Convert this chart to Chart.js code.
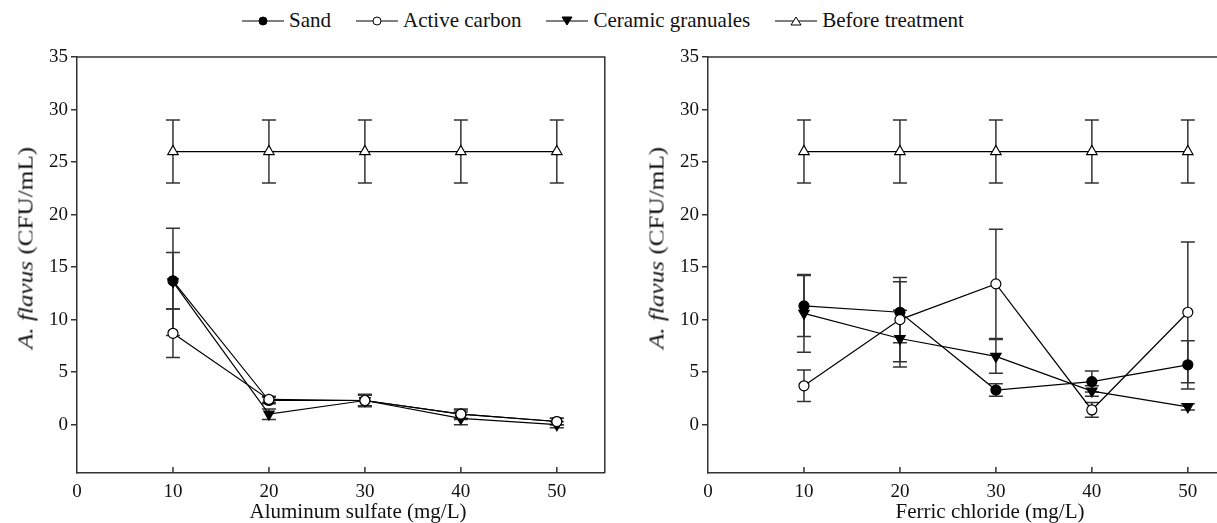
<!DOCTYPE html>
<html>
<head>
<meta charset="utf-8">
<script src="https://cdn.jsdelivr.net/npm/chart.js@4.4.1/dist/chart.umd.min.js"></script>
<style>
  html, body { margin: 0; padding: 0; background: #fff; }
  body { width: 1217px; height: 523px; overflow: hidden; position: relative; font-family: "Liberation Serif", "Times New Roman", "DejaVu Serif", serif; color: #111; }
  .panel { position: absolute; top: 0; width: 612px; height: 523px; }
  #legend { position: absolute; top: 8px; left: 0; width: 1206px; display: flex; justify-content: center; gap: 25px; font-size: 21px; }
  #legend .item { display: flex; align-items: center; gap: 5px; }
  .ytitle { position: absolute; top: 248px; font-size: 21px; white-space: nowrap; transform: translate(-50%, -50%) rotate(-90deg) scaleX(1.2); }
  .xtitle { position: absolute; top: 499px; font-size: 21px; line-height: 24px; white-space: nowrap; transform: translateX(-50%); }
</style>
</head>
<body>
<div id="legend"></div>
<div class="panel" style="left:0"><canvas id="chart-al"></canvas></div>
<div class="panel" style="left:631px"><canvas id="chart-fe"></canvas></div>
<div class="ytitle" style="left:26px"><i>A. flavus</i> (CFU/mL)</div>
<div class="ytitle" style="left:657px"><i>A. flavus</i> (CFU/mL)</div>
<div class="xtitle" style="left:358px">Aluminum sulfate (mg/L)</div>
<div class="xtitle" style="left:990px">Ferric chloride (mg/L)</div>
<script>
// Coagulant dose (mg/L)
const doses = [10, 20, 30, 40, 50];
const seriesNames = ['Sand', 'Active carbon', 'Ceramic granuales', 'Before treatment'];
const xTicks = [0, 10, 20, 30, 40, 50];
const yTicks = [0, 5, 10, 15, 20, 25, 30, 35];

// Aluminum sulfate panel
const alSand = [13.7, 2.3, 2.3, 1.0, 0.3];
const alSandErr = [2.7, 0.3, 0.5, 0.5, 0.3];
const alCarbon = [8.7, 2.4, 2.3, 1.0, 0.3];
const alCarbonErr = [2.3, 0.3, 0.5, 0.4, 0.3];
const alCeramic = [13.6, 1.0, 2.3, 0.6, 0.0];
const alCeramicErr = [5.1, 0.5, 0.6, 0.6, 0.3];

// Ferric chloride panel
const feSand = [11.3, 10.7, 3.3, 4.1, 5.7];
const feSandErr = [2.9, 2.9, 0.6, 1.0, 2.3];
const feCarbon = [3.7, 10.0, 13.4, 1.4, 10.7];
const feCarbonErr = [1.5, 4.0, 5.2, 0.7, 6.7];
const feCeramic = [10.6, 8.2, 6.5, 3.2, 1.7];
const feCeramicErr = [3.7, 2.7, 1.6, 0.5, 0.3];

// Before treatment (same in both panels)
const before = [26, 26, 26, 26, 26];
const beforeErr = [3, 3, 3, 3, 3];

const AXIS = '#333';
const FONT = '"Liberation Serif", "Times New Roman", "DejaVu Serif", serif';

// marker look per series
const markers = [
  { style: 'circle', fill: '#000', radius: 5, rotation: 0, order: 2 },
  { style: 'circle', fill: '#fff', radius: 5, rotation: 0, order: 0 },
  { style: 'triangle', fill: '#000', radius: 6, rotation: 180, order: 1 },
  { style: 'triangle', fill: '#fff', radius: 6, rotation: 0, order: 3 }
];

// vertical error bars with caps, drawn under the markers
const errorBars = {
  id: 'errorBars',
  beforeDatasetsDraw(chart) {
    const { ctx, scales: { x, y } } = chart;
    ctx.save();
    ctx.strokeStyle = AXIS;
    ctx.lineWidth = 1.5;
    chart.data.datasets.forEach(ds => {
      ds.data.forEach((p, i) => {
        const e = ds.errors[i];
        const px = x.getPixelForValue(p.x);
        const top = y.getPixelForValue(p.y + e);
        const bot = y.getPixelForValue(p.y - e);
        ctx.beginPath();
        ctx.moveTo(px, top); ctx.lineTo(px, bot);
        ctx.moveTo(px - 7, top); ctx.lineTo(px + 7, top);
        ctx.moveTo(px - 7, bot); ctx.lineTo(px + 7, bot);
        ctx.stroke();
      });
    });
    ctx.restore();
  }
};

// top/right frame and inward x ticks
const frame = {
  id: 'frame',
  afterDraw(chart) {
    const { ctx, chartArea: a, scales: { x } } = chart;
    ctx.save();
    ctx.strokeStyle = AXIS;
    ctx.lineWidth = 1.5;
    ctx.beginPath();
    ctx.moveTo(a.left, a.top); ctx.lineTo(a.right, a.top); ctx.lineTo(a.right, a.bottom);
    xTicks.filter(v => v > 0).forEach(v => {
      const px = x.getPixelForValue(v);
      ctx.moveTo(px, a.bottom); ctx.lineTo(px, a.bottom - 6);
    });
    ctx.stroke();
    ctx.restore();
  }
};

function makeDataset(i, values, errors) {
  const m = markers[i];
  return {
    label: seriesNames[i],
    data: doses.map((d, k) => ({ x: d, y: values[k] })),
    errors: errors,
    borderColor: '#000',
    borderWidth: 1.2,
    pointStyle: m.style,
    pointRadius: m.radius,
    pointRotation: m.rotation,
    pointBackgroundColor: m.fill,
    pointBorderColor: '#000',
    pointBorderWidth: 1.2,
    tension: 0,
    order: m.order
  };
}

function initPanel(id, series) {
  new Chart(document.getElementById(id), {
    type: 'line',
    data: { datasets: series.map((s, i) => makeDataset(i, s[0], s[1])) },
    options: {
      responsive: true,
      maintainAspectRatio: false,
      animation: false,
      layout: { padding: { top: 57, right: 7, left: 0, bottom: 0 } },
      plugins: { legend: { display: false }, tooltip: { enabled: false } },
      scales: {
        x: {
          type: 'linear',
          min: 0,
          max: 55,
          afterFit: s => { s.height = 50; },
          afterBuildTicks: s => { s.ticks = xTicks.map(v => ({ value: v })); },
          grid: { display: false },
          border: { color: AXIS, width: 1.5 },
          ticks: { color: '#111', padding: 0, maxRotation: 0, font: { family: FONT, size: 19 } }
        },
        y: {
          min: -4.6,
          max: 35,
          afterFit: s => { s.width = 77; },
          afterBuildTicks: s => { s.ticks = yTicks.map(v => ({ value: v })); },
          grid: { drawOnChartArea: false, tickLength: 6, color: AXIS, lineWidth: 1.5 },
          border: { color: AXIS, width: 1.5 },
          ticks: { color: '#111', padding: 3, font: { family: FONT, size: 19 } }
        }
      }
    },
    plugins: [errorBars, frame]
  });
}

function buildLegend() {
  const box = document.getElementById('legend');
  seriesNames.forEach((name, i) => {
    const m = markers[i];
    let shape;
    if (m.style === 'circle') {
      shape = `<circle cx="21" cy="8" r="4" fill="${m.fill}" stroke="#000" stroke-width="1"/>`;
    } else if (m.rotation === 180) {
      shape = `<polygon points="16,4 26,4 21,12" fill="${m.fill}" stroke="#000" stroke-width="1"/>`;
    } else {
      shape = `<polygon points="16,12 26,12 21,4" fill="${m.fill}" stroke="#000" stroke-width="1"/>`;
    }
    const item = document.createElement('div');
    item.className = 'item';
    item.innerHTML = `<svg width="42" height="16"><line x1="0" y1="8" x2="42" y2="8" stroke="#000" stroke-width="1.2"/>${shape}</svg><span>${name}</span>`;
    box.appendChild(item);
  });
}

buildLegend();
initPanel('chart-al', [
  [alSand, alSandErr], [alCarbon, alCarbonErr], [alCeramic, alCeramicErr], [before, beforeErr]
]);
initPanel('chart-fe', [
  [feSand, feSandErr], [feCarbon, feCarbonErr], [feCeramic, feCeramicErr], [before, beforeErr]
]);
</script>
</body>
</html>
